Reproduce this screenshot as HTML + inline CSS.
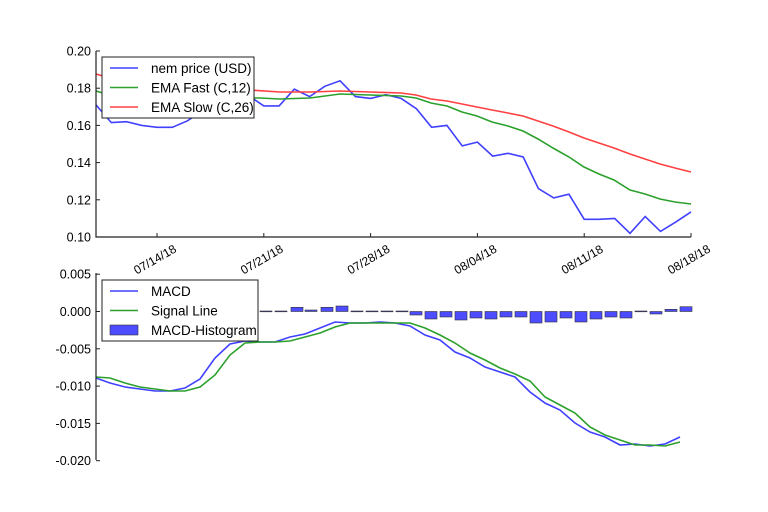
<!DOCTYPE html>
<html><head><meta charset="utf-8"><style>
html,body{margin:0;padding:0;background:#fff;}
svg{display:block;font-family:"Liberation Sans","DejaVu Sans",sans-serif;}
</style></head><body>
<svg id="s" width="768" height="512" xmlns="http://www.w3.org/2000/svg"></svg>
<script>
var price=[0.171,0.1615,0.162,0.160,0.159,0.159,0.1625,0.168,0.172,0.175,0.176,0.1705,0.1705,0.1795,0.1755,0.181,0.184,0.1755,0.1745,0.1765,0.1745,0.169,0.159,0.160,0.149,0.151,0.1435,0.145,0.143,0.126,0.121,0.123,0.1095,0.1095,0.110,0.102,0.111,0.103,0.108,0.1135];
function X(i){return 96+i*(595/39);}
function Y1(v){return 237-(v-0.10)*1860;}
var fast=[[96,91],[110,95],[260,98],[280,99],[310,98],[340,94],[370,95],[401,96],[416,98],[431,103],[447,106],[462,112],[477,116],[492,122],[508,126],[523,131],[538,139],[553,148],[569,157],[584,167],[599,174],[614,180],[630,190],[645,194],[660,199],[675,202],[691,204]];
var slow=[[96,74],[110,78],[250,90],[280,92],[310,92],[340,91],[370,92],[401,93],[416,95],[431,99],[447,101],[462,104],[477,107],[492,110],[508,113],[523,116],[538,121],[553,126],[569,132],[584,138],[599,143],[614,148],[630,154],[645,159],[660,164],[675,168],[691,172]];
var macd=[[96,378],[110,383],[125,387],[140,389],[155,391],[170,391],[185,388],[200,379],[215,358],[230,344],[245,341],[260,342],[275,342],[290,337],[305,334],[320,328],[335,322],[350,323],[365,323],[380,322],[395,323],[410,326],[425,335],[440,340],[455,352],[470,358],[485,367],[500,372],[515,377],[530,392],[545,403],[560,410],[575,423],[590,432],[605,437],[620,445],[635,444],[650,446],[665,444],[680,437]];
var sig=[[96,377],[110,378],[125,383],[140,387],[155,389],[170,391],[185,391],[200,387],[215,375],[230,355],[245,343],[260,342],[275,342],[290,341],[305,337],[320,333],[335,327],[350,323],[365,323],[380,323],[395,323],[410,323],[425,328],[440,335],[455,343],[470,353],[485,360],[500,368],[515,374],[530,381],[545,397],[560,405],[575,413],[590,427],[605,435],[620,440],[635,445],[650,445],[665,446],[680,442]];
var bars=[[245,311],[260,311],[275,311],[291,307.3],[305,310],[321,307.3],[336,306],[351,311],[366,311],[381,311],[396,311],[410,315],[425,319],[440,317],[455,320],[470,318],[485,319],[500,317],[515,317],[530,323],[545,322],[560,318],[575,322],[590,319],[605,317],[620,318],[635,311],[650,314],[665,309.3],[680,306.7]];
var Z=311.5;
var h='<defs><clipPath id="c1"><rect x="96" y="51" width="596" height="186"/></clipPath></defs>';
function pl(pts,c){return '<polyline fill="none" stroke="'+c+'" stroke-width="1.6" points="'+pts.map(p=>p[0]+','+p[1]).join(' ')+'"/>';}
h+='<g clip-path="url(#c1)">'+pl(price.map((v,i)=>[X(i).toFixed(1),Y1(v).toFixed(1)]),'#4040ff')+pl(fast,'#2ca02c')+pl(slow,'#ff4040')+'</g>';
bars.forEach(b=>{var y=b[1];h+='<rect x="'+b[0]+'" y="'+Math.min(y,Z)+'" width="12" height="'+Math.max(Math.abs(y-Z),0.8)+'" fill="#4d4dff" stroke="#333" stroke-width="0.6"/>';});
h+=pl(macd,'#4040ff')+pl(sig,'#2ca02c');
h+='<path d="M96,51V237H691M96,273V460" stroke="#222" stroke-width="1.2" fill="none"/>';
[0.10,0.12,0.14,0.16,0.18,0.20].forEach(v=>{var y=Y1(v);h+='<line x1="96" x2="100" y1="'+y+'" y2="'+y+'" stroke="#222"/><text x="91" y="'+(y+4.5)+'" font-size="12.5" text-anchor="end">'+v.toFixed(2)+'</text>';});
[0.005,0,-0.005,-0.010,-0.015,-0.020].forEach(v=>{var y=Z-v*7460;h+='<line x1="96" x2="100" y1="'+y+'" y2="'+y+'" stroke="#222"/><text x="91" y="'+(y+4.5)+'" font-size="12.5" text-anchor="end">'+v.toFixed(3)+'</text>';});
['07/14/18','07/21/18','07/28/18','08/04/18','08/11/18','08/18/18'].forEach((t,k)=>{var x=X(4+7*k);h+='<line x1="'+x+'" x2="'+x+'" y1="233" y2="237" stroke="#222"/><text transform="translate('+x+',263) rotate(-30)" font-size="12" text-anchor="middle">'+t+'</text>';});
function legend(x,y,w,items){var s='<rect x="'+x+'" y="'+y+'" width="'+w+'" height="61" fill="#fff" stroke="#222" stroke-width="1"/>';items.forEach((it,k)=>{var yy=y+11+k*19.5;if(it[2])s+='<rect x="'+(x+8)+'" y="'+(yy-5)+'" width="28" height="10" fill="#4d4dff" stroke="#333" stroke-width="0.6"/>';else s+='<line x1="'+(x+8)+'" x2="'+(x+36)+'" y1="'+yy+'" y2="'+yy+'" stroke="'+it[1]+'" stroke-width="1.6"/>';s+='<text x="'+(x+49)+'" y="'+(yy+5)+'" font-size="13.5">'+it[0]+'</text>';});return s;}
h+=legend(102,57,152,[['nem price (USD)','#4040ff'],['EMA Fast (C,12)','#2ca02c'],['EMA Slow (C,26)','#ff4040']]);
h+=legend(102,280,156,[['MACD','#4040ff'],['Signal Line','#2ca02c'],['MACD-Histogram','',1]]);
document.getElementById('s').innerHTML=h;
</script>
</body></html>
